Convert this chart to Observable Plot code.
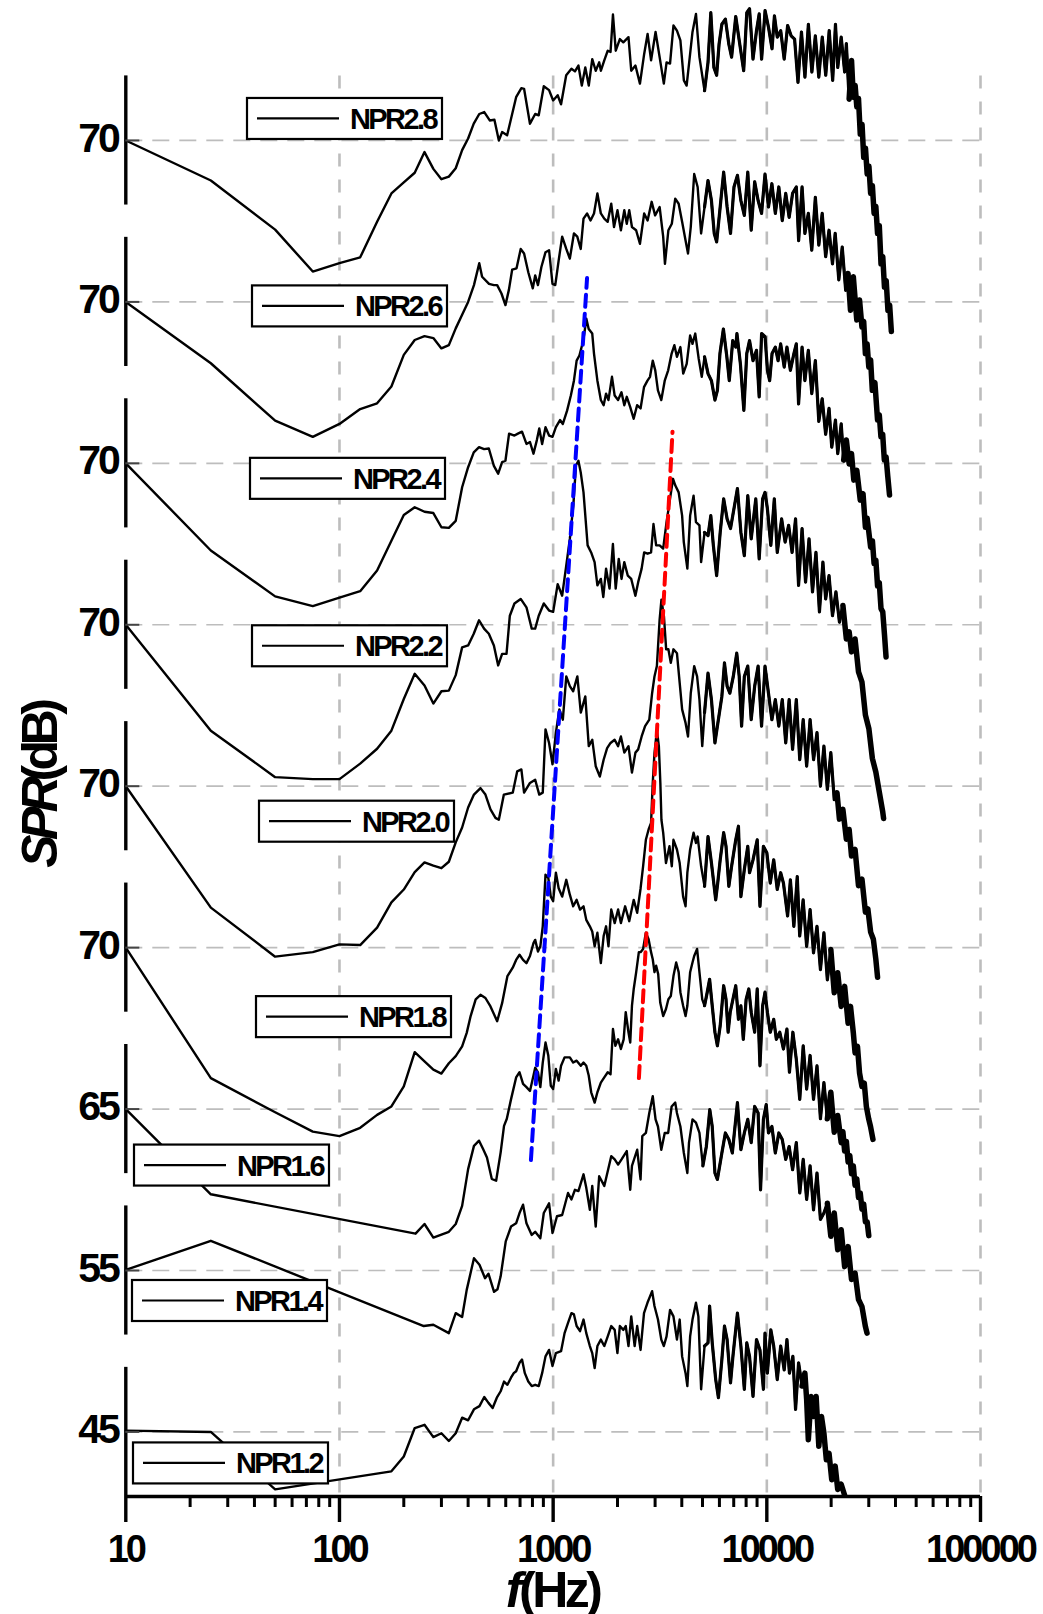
<!DOCTYPE html>
<html><head><meta charset="utf-8">
<script src="https://cdn.jsdelivr.net/npm/d3@7"></script>
<script src="https://cdn.jsdelivr.net/npm/@observablehq/plot@0.6"></script>
<style>
html,body{margin:0;padding:0;background:#fff;}
#chart{width:1043px;height:1614px;overflow:hidden;}
svg text{letter-spacing:-3px;}
</style></head><body><div id="chart"></div>
<script>
// ---------- DATA (frequency Hz, SPL dB) ----------
const nprLabels = ["NPR2.8","NPR2.6","NPR2.4","NPR2.2","NPR2.0","NPR1.8","NPR1.6","NPR1.4","NPR1.2"];
const tickValues = [70,70,70,70,70,70,65,55,45];
const xTickLabels = [10,100,1000,10000,100000];

const npr28 = [[10,70],[25,63.8],[50,56.2],[75,49.7],[100,51.0],[125,51.9],[150,57.4],[175,61.8],[200,63.5],[225,65.0],[250,68.2],[275,65.6],[300,64.0],[325,64.4],[350,65.7],[375,68.5],[400,70.3],[425,72.6],[451,74.1],[476,74.4],[505,73.1],[531,73.2],[557,70.0],[577,71.3],[609,70.8],[671,76.7],[710,78.1],[731,78.0],[779,72.6],[824,74.1],[856,73.9],[904,78.4],[957,77.8],[1000,76.2],[1050,77.0],[1089,75.6],[1151,80.1],[1218,81.1],[1265,80.7],[1313,81.6],[1362,78.5],[1414,81.3],[1468,78.5],[1524,82.6],[1582,80.8],[1642,82.1],[1673,80.8],[1735,82.4],[1801,83.9],[1856,83.7],[1905,89.5],[1963,83.9],[2052,85.7],[2130,85.2],[2252,86.0],[2320,80.8],[2427,81.6],[2548,78.8],[2667,83.4],[2767,86.5],[2873,82.4],[3015,86.8],[3150,82.9],[3296,78.8],[3394,82.1],[3524,81.9],[3656,87.8],[3796,87.0],[3940,85.5],[4090,79.3],[4214,78.5],[4375,83.4],[4489,86.8],[4660,89.6],[4838,82.9],[5111,77.7],[5306,82.1],[5468,89.8],[5653,81.3],[5823,80.1],[5976,84.9],[6160,88.0],[6397,88.8],[6641,84.9],[6842,82.9],[7154,89.2],[7426,85.5],[7793,80.8],[8058,89.8],[8300,90.4],[8617,82.6],[8946,87.0],[9210,89.6],[9453,82.6],[9813,90.1],[10187,87.5],[10575,84.2],[10856,89.3],[11190,86.0],[11614,87.0],[12057,82.6],[12516,87.8],[12993,86.2],[13488,85.7],[13990,79.0],[14523,86.8],[15077,79.8],[15650,88.0],[16248,80.6],[16866,86.2],[17508,79.8],[18175,86.0],[18867,80.1],[19586,87.0],[20332,79.3],[20955,88.0],[21470,81.3],[22287,86.0],[23136,80.6],[23560,85.0],[24280,76.4],[24910,82.4],[25400,76.7],[25900,78.5],[26370,75.2],[26850,76.5],[27370,71.0],[27900,72.5],[28410,67.4],[28950,68.8],[29490,64.8],[30050,66.0],[30610,61.8],[31190,63.0],[31770,58.7],[32370,59.8],[32980,55.6],[33600,56.8],[34230,50.9],[34880,52.0],[35530,47.3],[36200,48.3],[36880,43.7],[37570,44.5],[38270,40.4]];

const npr26 = [[10,70],[25,60.5],[50,51.6],[75,49.1],[100,51.1],[125,53.4],[150,54.3],[175,56.9],[200,61.8],[225,64.1],[250,64.7],[275,64.4],[300,62.8],[325,63.3],[350,65.9],[375,68.0],[400,70.0],[426,72.6],[451,76.0],[465,73.9],[501,72.8],[528,72.6],[547,72.6],[573,71.3],[598,69.5],[621,71.9],[643,75.0],[674,75.2],[705,78.2],[731,77.5],[765,74.6],[803,72.1],[824,74.1],[849,72.6],[881,75.4],[921,77.7],[957,78.0],[993,72.8],[1023,72.6],[1061,76.4],[1102,80.1],[1152,78.2],[1197,76.7],[1251,80.6],[1297,80.1],[1346,78.2],[1387,82.9],[1442,83.7],[1496,82.6],[1553,83.7],[1611,86.8],[1672,83.7],[1735,82.9],[1800,82.4],[1870,85.2],[1927,81.6],[2000,84.2],[2075,81.1],[2153,84.2],[2211,82.1],[2270,84.2],[2338,81.6],[2445,81.1],[2548,79.0],[2667,83.7],[2767,82.6],[2891,85.5],[3000,83.4],[3150,84.7],[3273,80.1],[3336,75.9],[3462,81.1],[3592,82.1],[3727,86.0],[3867,85.2],[4014,82.4],[4166,79.5],[4277,77.5],[4406,81.6],[4572,89.8],[4745,87.8],[4926,80.6],[5111,84.7],[5306,88.8],[5506,85.7],[5674,80.6],[5823,79.3],[6050,84.7],[6281,90.1],[6518,84.7],[6763,80.6],[7020,87.8],[7285,89.6],[7562,85.7],[7848,83.4],[8145,90.1],[8452,81.1],[8773,88.6],[9105,85.7],[9449,83.7],[9807,89.8],[10180,84.7],[10560,88.3],[10960,83.7],[11380,87.8],[11810,82.6],[12260,86.8],[12720,83.1],[13200,86.8],[13740,87.8],[14090,79.5],[14620,87.8],[15070,80.6],[15640,83.7],[16230,78.0],[16870,86.2],[17510,78.8],[18160,83.7],[18850,77.0],[19550,81.1],[20290,75.9],[20890,80.6],[21720,73.4],[22540,78.5],[23390,71.8],[23990,74.4],[24640,68.7],[25400,73.9],[26360,67.2],[27160,70.3],[27870,66.1],[28400,67.0],[28930,62.0],[29470,63.5],[30010,59.9],[30600,61.0],[31170,56.3],[32050,57.5],[32980,51.7],[33600,52.5],[34200,49.1],[34850,49.5],[35480,45.5],[36150,46.0],[36810,43.0],[37520,40.1]];

const npr24 = [[10,70],[25,56.5],[50,49.4],[75,47.9],[100,49.2],[125,50.2],[150,53.4],[175,58.0],[200,62.0],[225,63.2],[250,62.5],[275,62.3],[300,60.1],[325,60.0],[350,61.1],[375,66.3],[400,69.4],[425,71.7],[450,72.5],[475,72.2],[500,72.3],[528,69.6],[553,68.4],[577,70.2],[598,70.4],[622,74.6],[659,74.3],[684,74.6],[715,74.9],[750,73.0],[779,73.3],[809,71.5],[839,73.6],[861,75.4],[888,73.0],[921,75.6],[957,74.3],[993,74.1],[1030,75.6],[1077,76.7],[1110,76.1],[1163,78.2],[1210,80.5],[1251,82.8],[1288,85.9],[1327,86.7],[1378,88.8],[1399,90.1],[1430,92.4],[1467,90.8],[1524,90.1],[1553,87.0],[1611,82.8],[1672,79.8],[1723,79.0],[1769,80.8],[1815,79.8],[1885,83.4],[1940,80.5],[2013,79.8],[2088,81.0],[2153,79.0],[2211,80.3],[2295,78.7],[2381,76.9],[2471,79.0],[2565,78.5],[2662,81.8],[2763,82.8],[2840,83.4],[2925,85.9],[3005,84.4],[3093,81.3],[3207,79.8],[3328,82.8],[3454,84.4],[3585,87.0],[3693,88.3],[3796,86.5],[3940,88.0],[4062,83.9],[4216,85.4],[4376,89.8],[4489,88.5],[4625,90.1],[4800,86.2],[4960,83.4],[5111,86.5],[5306,83.9],[5507,82.8],[5716,79.8],[5870,81.3],[6034,87.0],[6262,90.8],[6500,86.5],[6672,82.8],[6926,89.0],[7154,88.0],[7245,90.1],[7522,85.4],[7806,78.2],[8056,87.0],[8299,89.0],[8617,85.9],[8946,87.5],[9210,80.3],[9453,90.1],[9813,89.6],[10070,84.4],[10310,82.8],[10580,87.0],[10960,88.0],[11290,85.9],[11610,88.5],[12060,84.9],[12420,88.0],[12890,84.4],[13390,87.0],[13740,88.5],[14080,79.2],[14620,88.0],[15070,82.8],[15640,87.5],[16230,80.8],[16870,85.9],[17510,76.5],[18160,80.0],[18850,74.5],[19550,78.5],[20130,72.5],[20950,76.7],[21470,71.5],[22290,76.1],[22890,70.5],[23560,73.6],[24280,69.9],[24910,71.5],[25530,67.4],[26370,68.9],[27370,64.3],[28200,65.3],[28930,60.1],[29490,61.5],[30610,57.0],[31200,58.0],[31770,54.5],[32380,55.0],[32980,51.0],[33600,51.5],[34230,47.5],[34880,47.0],[35530,43.5],[36140,40.0]];

const npr22 = [[10,70],[25,53.6],[50,46.4],[75,46.1],[100,46.1],[125,48.5],[150,50.8],[175,53.6],[200,58.5],[225,62.4],[250,60.6],[275,57.8],[300,59.7],[325,59.8],[350,62.2],[375,66.5],[400,66.8],[425,68.6],[450,70.7],[475,69.4],[500,68.6],[528,66.8],[553,63.7],[577,65.5],[605,65.5],[627,71.4],[659,73.3],[705,74.0],[750,72.7],[794,69.4],[824,69.4],[856,71.4],[904,73.3],[957,72.2],[1000,72.0],[1050,76.3],[1102,74.5],[1152,79.2],[1197,83.3],[1243,88.5],[1279,94.7],[1313,95.4],[1346,93.6],[1387,90.5],[1450,82.3],[1506,81.2],[1563,79.7],[1611,76.1],[1672,77.1],[1717,74.3],[1769,78.7],[1836,75.6],[1904,82.5],[1962,75.6],[2028,80.2],[2090,77.1],[2152,79.7],[2236,77.6],[2320,77.1],[2426,74.5],[2500,76.6],[2595,78.7],[2666,81.2],[2767,81.0],[2872,81.2],[2948,85.6],[3034,82.3],[3150,82.3],[3273,81.8],[3394,85.9],[3524,89.5],[3640,92.6],[3727,91.6],[3867,90.5],[4014,86.9],[4087,82.8],[4247,78.7],[4376,86.9],[4541,90.0],[4660,85.9],[4838,85.4],[4926,79.7],[5111,84.3],[5306,83.8],[5468,86.9],[5620,82.3],[5823,77.6],[6050,84.3],[6281,89.5],[6518,86.4],[6763,84.9],[7020,88.0],[7285,91.1],[7562,84.3],[7848,80.7],[8145,90.0],[8452,83.3],[8878,89.5],[9210,80.2],[9559,89.5],[9807,90.5],[10060,88.0],[10440,82.3],[10840,89.5],[11190,81.2],[11730,86.4],[12180,82.8],[12650,85.4],[13130,81.2],[13630,86.4],[14080,76.1],[14620,84.9],[15180,76.6],[15760,83.3],[16360,75.1],[16980,81.2],[17630,72.0],[18300,79.7],[18850,74.0],[19550,77.6],[20290,71.4],[21060,75.1],[21870,70.4],[22700,73.0],[23560,67.8],[24280,68.9],[24910,65.8],[25880,67.8],[26860,62.7],[27880,61.1],[28940,56.0],[30040,53.9],[31180,49.3],[32370,47.2],[33600,44.1],[34880,41.0],[35200,40.0]];

const npr20 = [[10,70],[25,51.2],[50,43.6],[75,44.3],[100,45.5],[125,45.4],[150,48.1],[175,52.0],[200,54.0],[225,56.7],[250,58.2],[275,57.7],[300,57.3],[325,58.3],[350,61.3],[375,63.6],[400,66.7],[426,68.7],[457,69.7],[482,68.7],[509,66.4],[537,65.1],[557,64.8],[588,68.7],[647,69.0],[679,72.3],[710,72.6],[731,69.0],[779,70.5],[824,71.0],[861,68.7],[894,69.0],[921,78.8],[957,76.7],[993,73.4],[1030,78.3],[1069,81.9],[1110,80.3],[1152,87.0],[1197,85.5],[1241,84.7],[1298,87.0],[1347,81.4],[1414,83.9],[1468,76.2],[1524,77.2],[1582,73.1],[1654,71.5],[1723,74.1],[1789,75.9],[1856,76.7],[1940,77.2],[2013,76.2],[2075,77.7],[2153,75.2],[2252,76.2],[2338,72.1],[2427,75.2],[2500,75.7],[2595,77.7],[2693,79.3],[2818,80.3],[2905,84.4],[2980,87.0],[3058,88.6],[3150,95.8],[3212,98.9],[3300,96.3],[3380,91.2],[3462,91.2],[3553,89.1],[3656,91.2],[3796,90.6],[3910,86.0],[4014,81.9],[4166,79.8],[4277,77.7],[4406,84.4],[4572,88.6],[4717,87.0],[4838,83.4],[4986,76.2],[5111,81.4],[5306,87.5],[5506,83.4],[5716,76.7],[5870,79.3],[6160,83.9],[6336,89.1],[6518,85.5],[6714,84.4],[6968,87.0],[7231,90.6],[7426,87.0],[7620,79.3],[7848,87.0],[8145,88.6],[8452,80.3],[8773,85.5],[9105,88.6],[9449,79.3],[9807,88.6],[10180,84.4],[10560,80.3],[10960,83.4],[11380,79.3],[11810,83.4],[12260,76.7],[12720,83.4],[13200,75.7],[13740,83.4],[14260,74.1],[14800,80.3],[15360,73.1],[15940,80.3],[16550,74.1],[17170,78.3],[17820,70.0],[18500,76.2],[19200,69.5],[19930,75.2],[20680,67.9],[21300,69.0],[21870,64.9],[22700,66.4],[23560,61.8],[24280,63.3],[24910,59.2],[25880,60.2],[26860,54.6],[27880,55.6],[28940,50.5],[29700,51.0],[30610,47.4],[31520,46.3],[32370,43.2],[32980,40.4]];

const npr18 = [[10,70],[25,49.8],[50,44.5],[75,41.5],[100,40.8],[125,42.1],[150,44.1],[175,45.4],[200,48.5],[225,53.8],[250,52.4],[275,51.1],[300,50.5],[325,52.1],[350,53.2],[375,54.7],[394,56.8],[411,59.4],[434,62.0],[457,62.7],[482,62.2],[509,60.9],[547,58.6],[577,61.4],[611,65.6],[647,66.9],[671,68.1],[696,68.9],[723,68.1],[750,67.6],[779,68.7],[809,70.7],[824,71.2],[849,69.4],[871,70.2],[894,73.3],[921,81.3],[949,80.8],[975,77.9],[1000,77.2],[1030,81.6],[1061,79.2],[1102,77.9],[1152,80.5],[1197,78.2],[1241,76.4],[1288,77.4],[1336,75.9],[1387,76.4],[1429,74.3],[1485,73.3],[1524,72.5],[1564,70.2],[1611,72.3],[1672,67.6],[1723,71.8],[1769,73.3],[1815,70.2],[1870,75.9],[1941,73.8],[2014,75.9],[2075,73.8],[2172,76.4],[2270,74.1],[2383,77.4],[2473,75.4],[2566,79.2],[2636,82.6],[2716,86.7],[2797,88.3],[2872,89.3],[2925,95.5],[2980,100.1],[3058,103.7],[3124,101.2],[3175,95.5],[3212,89.8],[3273,87.8],[3373,83.1],[3502,85.7],[3592,82.6],[3656,86.7],[3796,85.2],[3910,83.1],[4058,77.9],[4166,76.4],[4247,81.6],[4376,85.2],[4541,87.8],[4660,86.2],[4745,87.2],[4926,82.6],[5111,79.5],[5306,87.2],[5506,83.1],[5765,77.4],[5891,80.0],[6050,83.6],[6281,87.8],[6442,85.7],[6641,79.5],[6842,82.6],[7154,86.7],[7365,88.8],[7562,77.9],[7848,82.1],[8145,85.7],[8299,81.6],[8617,83.6],[9017,86.7],[9286,76.4],[9638,85.7],[10000,84.7],[10380,80.0],[10770,83.6],[11190,79.0],[11610,81.6],[11960,80.0],[12510,74.9],[12890,80.5],[13380,73.3],[13880,81.0],[14250,71.8],[14790,77.4],[15360,70.2],[15940,75.9],[16540,69.2],[17170,73.3],[17820,66.6],[18500,72.3],[19200,65.0],[19930,69.7],[20680,63.0],[21470,66.1],[22290,60.9],[23130,64.0],[24010,58.3],[24640,60.9],[25400,56.8],[25880,53.7],[26560,54.7],[27160,50.6],[27870,48.5],[28580,49.0],[29230,45.4],[30010,43.4],[30570,42.3],[31390,40.3]];

const npr16 = [[10,65],[25,51.8],[227,45.7],[250,47.2],[275,45.1],[325,46.0],[350,47.2],[375,50.0],[400,55.7],[426,59.3],[450,60.1],[470,58.8],[490,57.5],[516,54.2],[541,53.9],[568,58.3],[589,62.4],[607,63.5],[635,66.5],[671,69.9],[696,70.7],[723,68.9],[750,68.4],[779,67.8],[809,70.2],[824,71.4],[849,70.7],[871,68.4],[894,72.2],[921,75.3],[949,73.3],[975,68.6],[1000,68.1],[1030,71.2],[1061,69.4],[1089,71.7],[1131,73.0],[1197,73.0],[1241,72.2],[1288,72.5],[1347,71.7],[1387,72.2],[1429,71.7],[1467,70.2],[1507,67.6],[1564,66.0],[1611,67.6],[1672,69.1],[1735,69.9],[1801,70.7],[1856,70.4],[1905,77.4],[1955,74.8],[2014,75.8],[2075,74.3],[2138,75.8],[2186,80.0],[2252,76.9],[2295,75.3],[2338,81.0],[2383,83.6],[2447,86.2],[2518,89.3],[2565,89.3],[2636,89.8],[2716,92.3],[2797,91.3],[2872,89.3],[2925,88.2],[2980,86.2],[3034,87.2],[3102,85.9],[3170,81.5],[3273,79.4],[3373,80.5],[3462,82.0],[3553,82.5],[3656,85.6],[3765,87.7],[3867,86.2],[3940,83.1],[4058,81.0],[4166,79.4],[4247,81.0],[4376,86.2],[4489,87.7],[4572,88.7],[4717,89.8],[4838,86.2],[4986,82.0],[5111,81.0],[5262,83.1],[5398,85.1],[5552,81.0],[5716,76.9],[5870,74.8],[6050,77.9],[6281,84.1],[6442,82.0],[6590,76.9],[6740,80.0],[6940,82.0],[7154,84.1],[7365,78.9],[7562,81.0],[7760,75.8],[8000,82.0],[8235,83.6],[8452,80.0],[8773,76.9],[9017,83.6],[9286,71.7],[9559,81.0],[9807,83.1],[10060,80.0],[10380,76.9],[10770,78.9],[11080,75.8],[11500,76.9],[11960,74.3],[12420,77.4],[12760,70.7],[13240,76.9],[13740,72.7],[14260,66.5],[14800,74.8],[15360,68.1],[15940,73.3],[16540,66.5],[17170,71.7],[17820,63.5],[18500,69.1],[19200,63.5],[19930,67.6],[20680,61.4],[21470,64.0],[22290,59.8],[22700,61.5],[23130,58.5],[23560,60.0],[24010,56.8],[24450,57.8],[24910,55.0],[25400,56.2],[25880,53.2],[26360,54.2],[26860,51.3],[27360,52.0],[27880,49.5],[28400,50.3],[28940,47.5],[29500,47.5],[30000,45.4]];

const npr14 = [[10,55.1],[25,59.6],[248,46.4],[275,46.6],[325,45.3],[350,48.4],[375,47.8],[394,52.0],[426,56.9],[452,55.9],[480,53.8],[498,54.5],[529,51.7],[549,52.1],[568,54.1],[600,59.5],[635,61.8],[671,62.3],[696,63.9],[723,65.2],[750,62.3],[794,60.5],[824,61.0],[871,60.0],[904,63.9],[957,65.4],[993,60.8],[1042,63.4],[1102,63.6],[1174,67.0],[1218,66.0],[1265,67.5],[1313,67.3],[1387,69.9],[1429,67.8],[1485,64.4],[1524,68.1],[1582,61.8],[1642,69.6],[1735,68.1],[1870,72.7],[1941,72.2],[2014,71.4],[2090,72.2],[2211,73.5],[2295,67.5],[2338,71.2],[2473,73.7],[2565,69.1],[2613,75.8],[2716,76.3],[2818,79.4],[2925,82.0],[3015,78.4],[3094,77.3],[3207,73.7],[3328,76.3],[3454,76.3],[3585,80.4],[3727,81.0],[3796,79.4],[3940,77.3],[4090,73.2],[4247,70.1],[4323,74.8],[4489,78.4],[4660,77.9],[4838,76.3],[5020,71.2],[5211,74.2],[5409,79.9],[5552,77.3],[5716,70.1],[5870,69.1],[6160,73.2],[6397,76.3],[6641,75.3],[6894,73.2],[7285,81.0],[7562,73.7],[7848,76.3],[8145,78.4],[8452,74.8],[8773,80.4],[9105,79.4],[9346,67.5],[9638,78.4],[9937,80.7],[10180,76.3],[10560,77.3],[10960,73.2],[11380,76.3],[11810,75.3],[12260,72.2],[12720,74.2],[13200,70.6],[13740,74.8],[14260,67.0],[14800,72.2],[15360,66.0],[15940,71.2],[16540,64.4],[17170,70.1],[17820,62.9],[18500,63.9],[19200,65.4],[19930,60.3],[20680,63.9],[21470,58.2],[22290,61.3],[23130,55.6],[24010,58.7],[24910,53.6],[25880,54.6],[26860,50.5],[27880,49.4],[28940,46.3],[29440,45.3]];

const npr12 = [[10,45.2],[25,45.0],[50,36.1],[175,38.9],[200,41.2],[225,45.6],[250,46.1],[275,44.2],[300,44.8],[325,43.6],[350,44.8],[375,47.2],[400,46.8],[426,48.5],[452,49.0],[476,50.4],[498,49.5],[521,48.7],[545,50.3],[568,51.3],[589,52.8],[611,52.3],[635,53.4],[654,54.1],[671,54.4],[696,55.7],[715,56.2],[737,54.1],[765,52.8],[794,52.1],[824,52.3],[856,52.1],[888,54.1],[921,56.7],[957,57.7],[993,55.2],[1030,57.2],[1089,57.5],[1131,60.3],[1174,61.9],[1218,63.4],[1251,63.2],[1288,61.4],[1336,60.6],[1387,62.4],[1429,60.3],[1485,58.3],[1524,57.2],[1564,54.9],[1611,58.3],[1672,59.3],[1735,58.3],[1801,59.8],[1870,61.4],[1941,60.8],[1999,57.2],[2052,61.4],[2130,60.8],[2186,61.4],[2252,58.3],[2320,62.9],[2407,58.3],[2473,61.4],[2565,57.7],[2662,63.4],[2763,65.0],[2840,66.0],[2905,66.8],[2980,64.5],[3094,62.4],[3207,59.3],[3296,58.3],[3394,59.8],[3524,63.9],[3656,62.9],[3796,59.3],[3910,62.4],[4014,56.7],[4166,54.1],[4247,52.1],[4376,59.8],[4489,62.4],[4660,65.0],[4783,62.9],[4926,51.6],[5111,58.3],[5306,58.8],[5398,64.5],[5552,58.8],[5765,53.1],[5936,50.3],[6160,56.2],[6336,61.4],[6518,59.3],[6763,52.6],[6940,56.7],[7285,63.4],[7562,58.3],[7848,51.6],[8056,58.8],[8299,56.7],[8617,50.5],[8946,59.3],[9286,57.7],[9638,51.6],[9807,60.3],[10060,54.1],[10440,60.8],[10770,58.3],[11190,53.1],[11610,58.3],[12060,54.6],[12420,59.3],[12760,54.1],[13240,56.7],[13630,48.5],[14080,55.7],[14620,52.1],[15070,54.1],[15360,50.0],[15640,43.8],[16110,50.5],[16540,47.4],[17010,50.5],[17510,42.8],[18020,47.4],[18500,44.8],[18990,40.7],[19550,41.7],[20130,37.6],[20890,39.7],[21470,36.1],[22290,36.9],[23130,35.2]];

const seriesData = [npr28, npr26, npr24, npr22, npr20, npr18, npr16, npr14, npr12];

// dashed guide lines (each end given as frequency + dB on a panel's axis)
const blueGuide = [{npr:"NPR1.6", f:787, db:57.1}, {npr:"NPR2.6", f:1441, db:73.7}];
const redGuide  = [{npr:"NPR1.6", f:2520, db:69.8}, {npr:"NPR2.4", f:3619, db:74.9}];

// ---------- LAYOUT ----------
const SPACING = 25;           // dB offset between stacked panels
const HALF = 10;              // half height of each y-axis segment (dB)
const W = 1043, H = 1614;
const mL = 125.3, mR = 63, mT = 75.4, mB = 118;
const yDomain = [-HALF, (nprLabels.length - 1) * SPACING + HALF];
const pxPerUnit = (H - mT - mB) / (yDomain[1] - yDomain[0]);
// legend box placement (left px, offset from panel tick px)
const legendLayout = [[247,-42],[252,-16],[250,-5],[252,1],[259,15],[256,49],[134,36],[132,10],[133,11]];

const panels = nprLabels.map((name, i) => ({
  name, tick: tickValues[i], data: seriesData[i], base: (nprLabels.length - 1 - i) * SPACING, layout: legendLayout[i]
}));
const rows = panels.flatMap(p => {
  const fMax = p.data[p.data.length - 1][0];
  return p.data.map(([f, v]) => ({name: p.name, f, y: v - p.tick + p.base, hi: f >= 5000, tail: f >= 0.63 * fMax}));
});
const yOf = d => { const p = panels.find(q => q.name === d.npr); return d.db - p.tick + p.base; };

const minorTicks = [];
xTickLabels.slice(0, -1).forEach(d => { for (let k = 2; k < 10; k++) minorTicks.push(d * k); });

const font = "'Liberation Sans', Arial, Helvetica, sans-serif";
const bottom = yDomain[0];

const plot = Plot.plot({
  width: W, height: H,
  marginLeft: mL, marginRight: mR, marginTop: mT, marginBottom: mB,
  x: {type: "log", domain: [10, 100000], axis: null},
  y: {domain: yDomain, axis: null},
  style: {fontFamily: font, background: "#fff", color: "#000"},
  marks: [
    Plot.ruleY(panels, {y: "base", stroke: "#bdbdbd", strokeWidth: 1.7, strokeDasharray: "17,10"}),
    Plot.ruleX(xTickLabels.slice(1), {x: d => d, stroke: "#bdbdbd", strokeWidth: 2.6, strokeDasharray: "13,13"}),
    Plot.line(rows, {x: "f", y: "y", z: "name", stroke: "#000", strokeWidth: 2.4, strokeLinejoin: "round"}),
    Plot.line(rows.filter(d => d.hi), {x: "f", y: "y", z: "name", stroke: "#000", strokeWidth: 3.2, strokeLinejoin: "round"}),
    Plot.line(rows.filter(d => d.tail), {x: "f", y: "y", z: "name", stroke: "#000", strokeWidth: 5.5, strokeLinejoin: "round", strokeLinecap: "round"}),
    Plot.line(blueGuide, {x: "f", y: yOf, stroke: "#0000ff", strokeWidth: 4, strokeDasharray: "12,7"}),
    Plot.line(redGuide, {x: "f", y: yOf, stroke: "#ff0000", strokeWidth: 4, strokeDasharray: "12,7"}),
    // y axis segments + ticks + labels
    Plot.ruleX(panels, {x: () => 10, y1: d => d.base - HALF, y2: d => d.base + HALF, stroke: "#000", strokeWidth: 3.4}),
    Plot.ruleY(panels, {y: "base", x1: () => 10, x2: () => 10 * Math.pow(10, 14 / 213.7), stroke: "#444", strokeWidth: 2}),
    Plot.text(panels, {x: () => 10, y: "base", text: d => String(d.tick), textAnchor: "end", dx: -8, dy: -2, fontSize: 41, fontWeight: "bold", fill: "#000"}),
    // x axis
    Plot.ruleY([bottom], {x1: () => 10, x2: () => 100000, stroke: "#000", strokeWidth: 3.4}),
    Plot.ruleX(xTickLabels, {x: d => d, y1: () => bottom, y2: () => bottom - 26 / pxPerUnit, stroke: "#000", strokeWidth: 3.4}),
    Plot.ruleX(minorTicks, {x: d => d, y1: () => bottom - 1 / pxPerUnit, y2: () => bottom - 11 / pxPerUnit, stroke: "#000", strokeWidth: 3}),
    Plot.text(xTickLabels, {x: d => d, y: () => bottom, dy: 53, text: d => String(d), fontSize: 38, fontWeight: "bold", fill: "#000"})
  ]
});
document.getElementById("chart").appendChild(plot);

// ---------- legends and axis titles ----------
const svg = d3.select(plot);
const sx = plot.scale("x"), sy = plot.scale("y");
const ypx = v => sy.apply ? sy.apply(v) : (mT + (yDomain[1] - v) * pxPerUnit);
const xpx = v => sx.apply ? sx.apply(v) : (mL + Math.log10(v / 10) / 4 * (W - mL - mR));

const lg = svg.append("g").attr("text-anchor", "start");
panels.forEach(p => {
  const [left, off] = p.layout;
  const top = ypx(p.base) + off;
  const g = lg.append("g").attr("transform", `translate(${left},${top})`);
  g.append("rect").attr("width", 195).attr("height", 41).attr("fill", "#fff").attr("stroke", "#000").attr("stroke-width", 2.2);
  g.append("line").attr("x1", 10).attr("x2", 92).attr("y1", 20.5).attr("y2", 20.5).attr("stroke", "#000").attr("stroke-width", 2.2);
  g.append("text").attr("x", 103).attr("y", 31).attr("text-anchor", "start").attr("font-family", font).attr("font-size", 29).attr("font-weight", "bold")
    .style("letter-spacing", "-2.6px").text(p.name);
});

const xt = svg.append("text").attr("x", xpx(1000)).attr("y", 1607).attr("text-anchor", "middle")
  .attr("font-family", font).attr("font-size", 50).attr("font-weight", "bold").style("letter-spacing", "-3.5px");
xt.append("tspan").attr("font-style", "italic").text("f");
xt.append("tspan").text("(Hz)");

const yt = svg.append("text").attr("transform", `translate(57,${ypx(4 * SPACING)}) rotate(-90)`).attr("text-anchor", "middle")
  .attr("font-family", font).attr("font-size", 50).attr("font-weight", "bold").style("letter-spacing", "-5.5px");
yt.append("tspan").attr("font-style", "italic").text("SPR");
yt.append("tspan").text("(dB)");
</script>
</body></html>
